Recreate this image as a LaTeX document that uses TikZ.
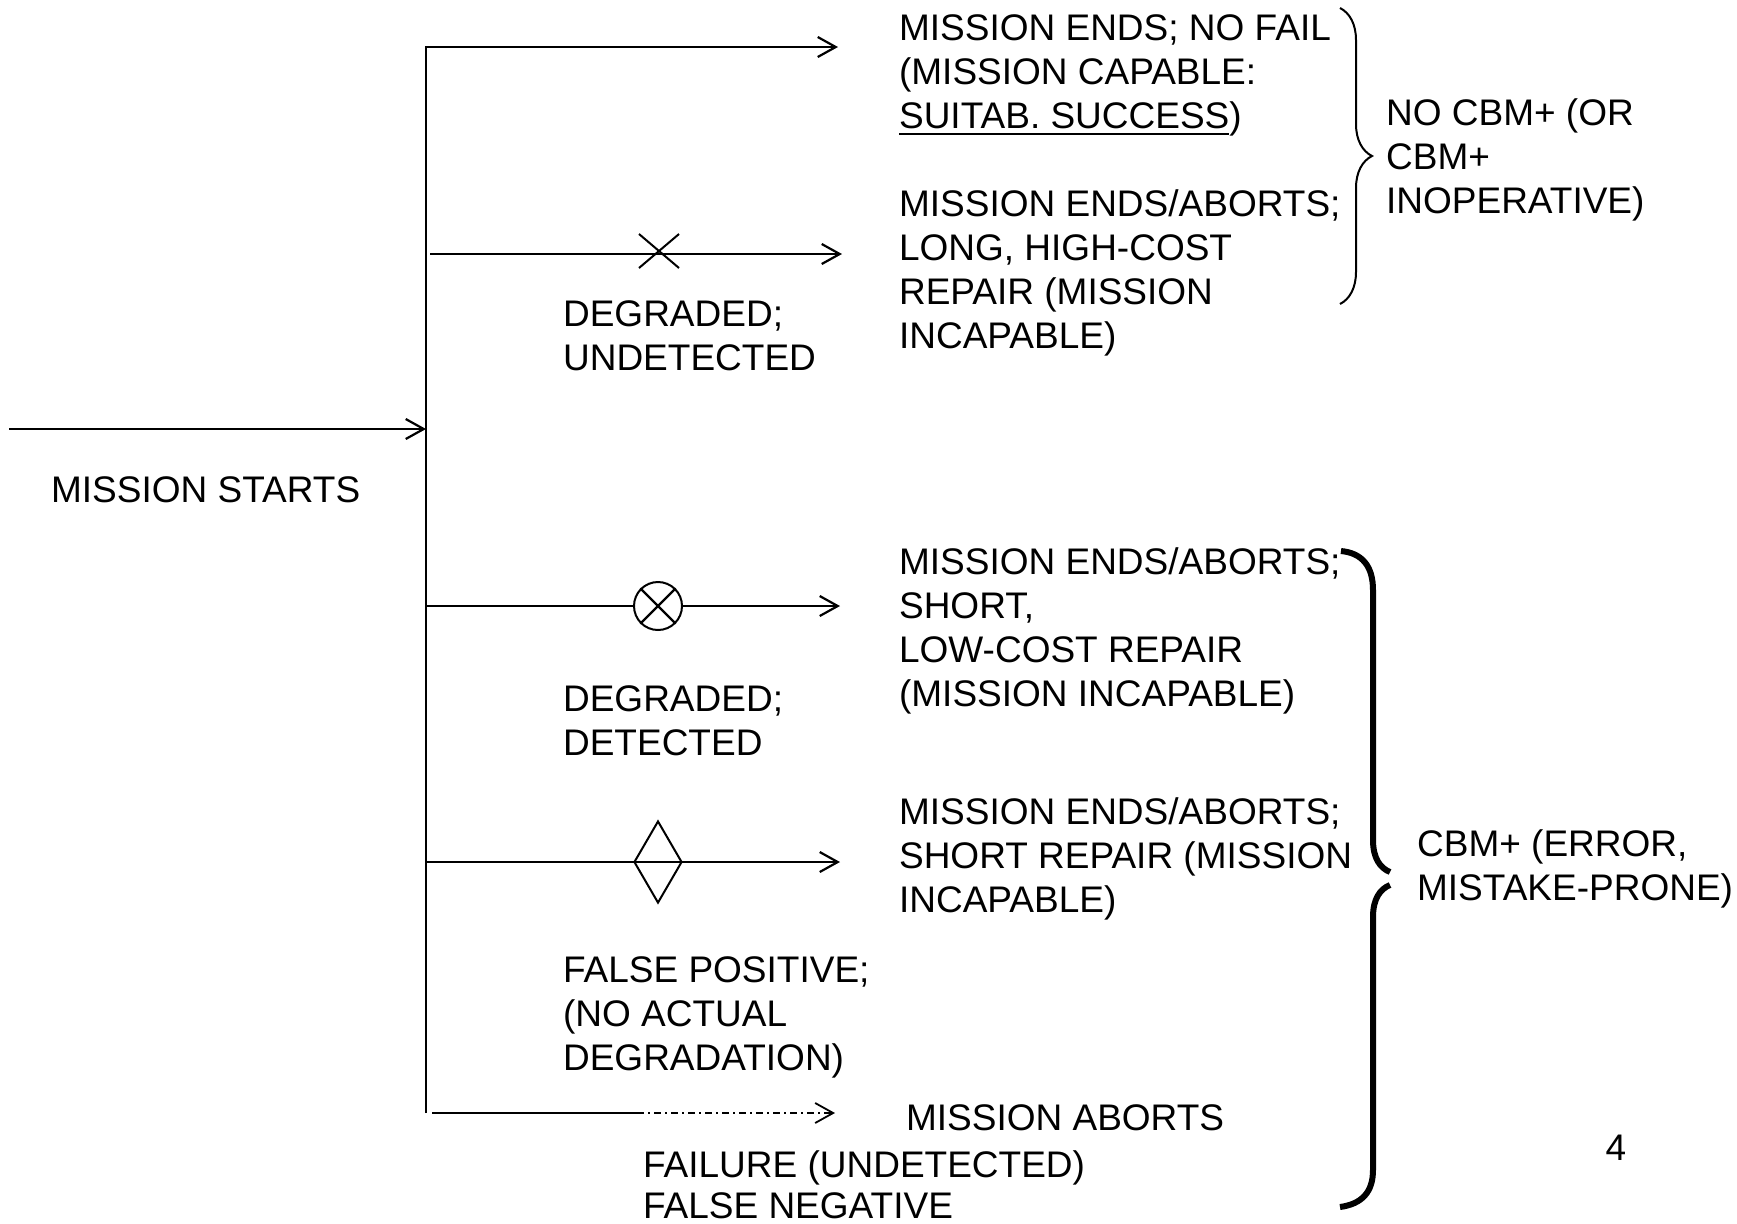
\documentclass[tikz,border=0pt]{standalone}
\usepackage{fontspec}
\setmainfont{Liberation Sans}
\usetikzlibrary{arrows.meta,shapes.geometric,shapes.misc,decorations.pathreplacing}

\newcommand{\undl}[1]{\leavevmode\vtop{\hbox{#1}\kern1.6pt\hrule height 1pt}}

\begin{document}
\begin{tikzpicture}[x=0.5pt, y=-0.5pt, line width=1.1pt,
    main/.style = {draw=none, inner sep=0pt, anchor=north west, align=left, font=\fontsize{18.5}{22}\selectfont},
    arr/.style = {-{Straight Barb[length=9pt, width=10pt]}},
    sym/.style = {draw, inner sep=0pt, line width=1pt}]

    \useasboundingbox (0,0) rectangle (1737,1223);

    \node[main] (1) at (50,476)     {MISSION STARTS};
    \node[main] (2) at (898,14)     {MISSION ENDS; NO FAIL\\(MISSION CAPABLE:\\\undl{SUITAB. SUCCESS})};
    \node[main] (3) at (898,189)    {MISSION ENDS/ABORTS;\\LONG, HIGH-COST\\REPAIR (MISSION\\INCAPABLE)};
    \node[main] (4) at (562,300)    {DEGRADED;\\UNDETECTED};
    \node[main] (5) at (898,547)    {MISSION ENDS/ABORTS;\\SHORT,\\LOW-COST REPAIR\\(MISSION INCAPABLE)};
    \node[main] (6) at (562,685)    {DEGRADED;\\DETECTED};
    \node[main] (7) at (898,797)    {MISSION ENDS/ABORTS;\\SHORT REPAIR (MISSION\\INCAPABLE)};
    \node[main] (8) at (562,956)    {FALSE POSITIVE;\\(NO ACTUAL\\DEGRADATION)};
    \node[main] (9) at (905,1104)   {MISSION ABORTS};
    \node[main] (10) at (642,1150)  {FAILURE (UNDETECTED)\\[-1.5pt]FALSE NEGATIVE};
    \node[main] (11) at (1385,98)   {NO CBM+ (OR\\CBM+\\INOPERATIVE)};
    \node[main] (12) at (1416,829)  {CBM+ (ERROR,\\MISTAKE-PRONE)};
    \node[main, anchor=north] (13) at (1616,1134) {4};

    \coordinate (in) at (9,429);
    \coordinate (j) at (426,429);
    \coordinate (top) at (426,47);
    \coordinate (bot) at (426,1113);
    \coordinate (a1) at (838,47);
    \coordinate (b2) at (430,254);
    \coordinate (a2) at (842,254);
    \coordinate (b3) at (426,606);
    \coordinate (a3) at (840,606);
    \coordinate (b4) at (426,862);
    \coordinate (a4) at (840,862);
    \coordinate (b5) at (432,1113);
    \coordinate (m5) at (637,1113);
    \coordinate (a5) at (835,1113);

    \draw[arr] (in) to (j);
    \draw[arr] (bot) -- (top) -- (a1);
    \draw[arr] (b2) to (a2);
    \draw[arr] (b4) to (a4);

    \node[sym, cross out, minimum width=19pt, minimum height=16pt] (x1) at (659,251) {};
    \node[sym, circle, minimum size=24pt] (c1) at (658,606) {};
    \draw (c1.north west) -- (c1.south east) (c1.north east) -- (c1.south west);
    \draw (b3) to (c1);
    \draw[arr] (c1) to (a3);
    \node[sym, diamond, minimum width=24pt, minimum height=41pt] (d1) at (658,862) {};

    \draw (b5) to (m5);
    \draw[arr, line width=0.9pt, dash pattern=on 3.5pt off 2pt on 1pt off 2pt] (m5) to (a5);

    \draw[decorate, decoration={brace, amplitude=16pt}, line width=1pt] (1340,8) -- (1340,304);
    \draw[line width=3pt] (1341,551) .. controls (1362,553) and (1373,566) .. (1373,590) -- (1373,840)
        .. controls (1373,858) and (1380,868) .. (1390,872);
    \draw[line width=3pt] (1390,885) .. controls (1380,889) and (1373,899) .. (1373,917) -- (1373,1170)
        .. controls (1373,1192) and (1362,1204) .. (1340,1207);
\end{tikzpicture}
\end{document}
